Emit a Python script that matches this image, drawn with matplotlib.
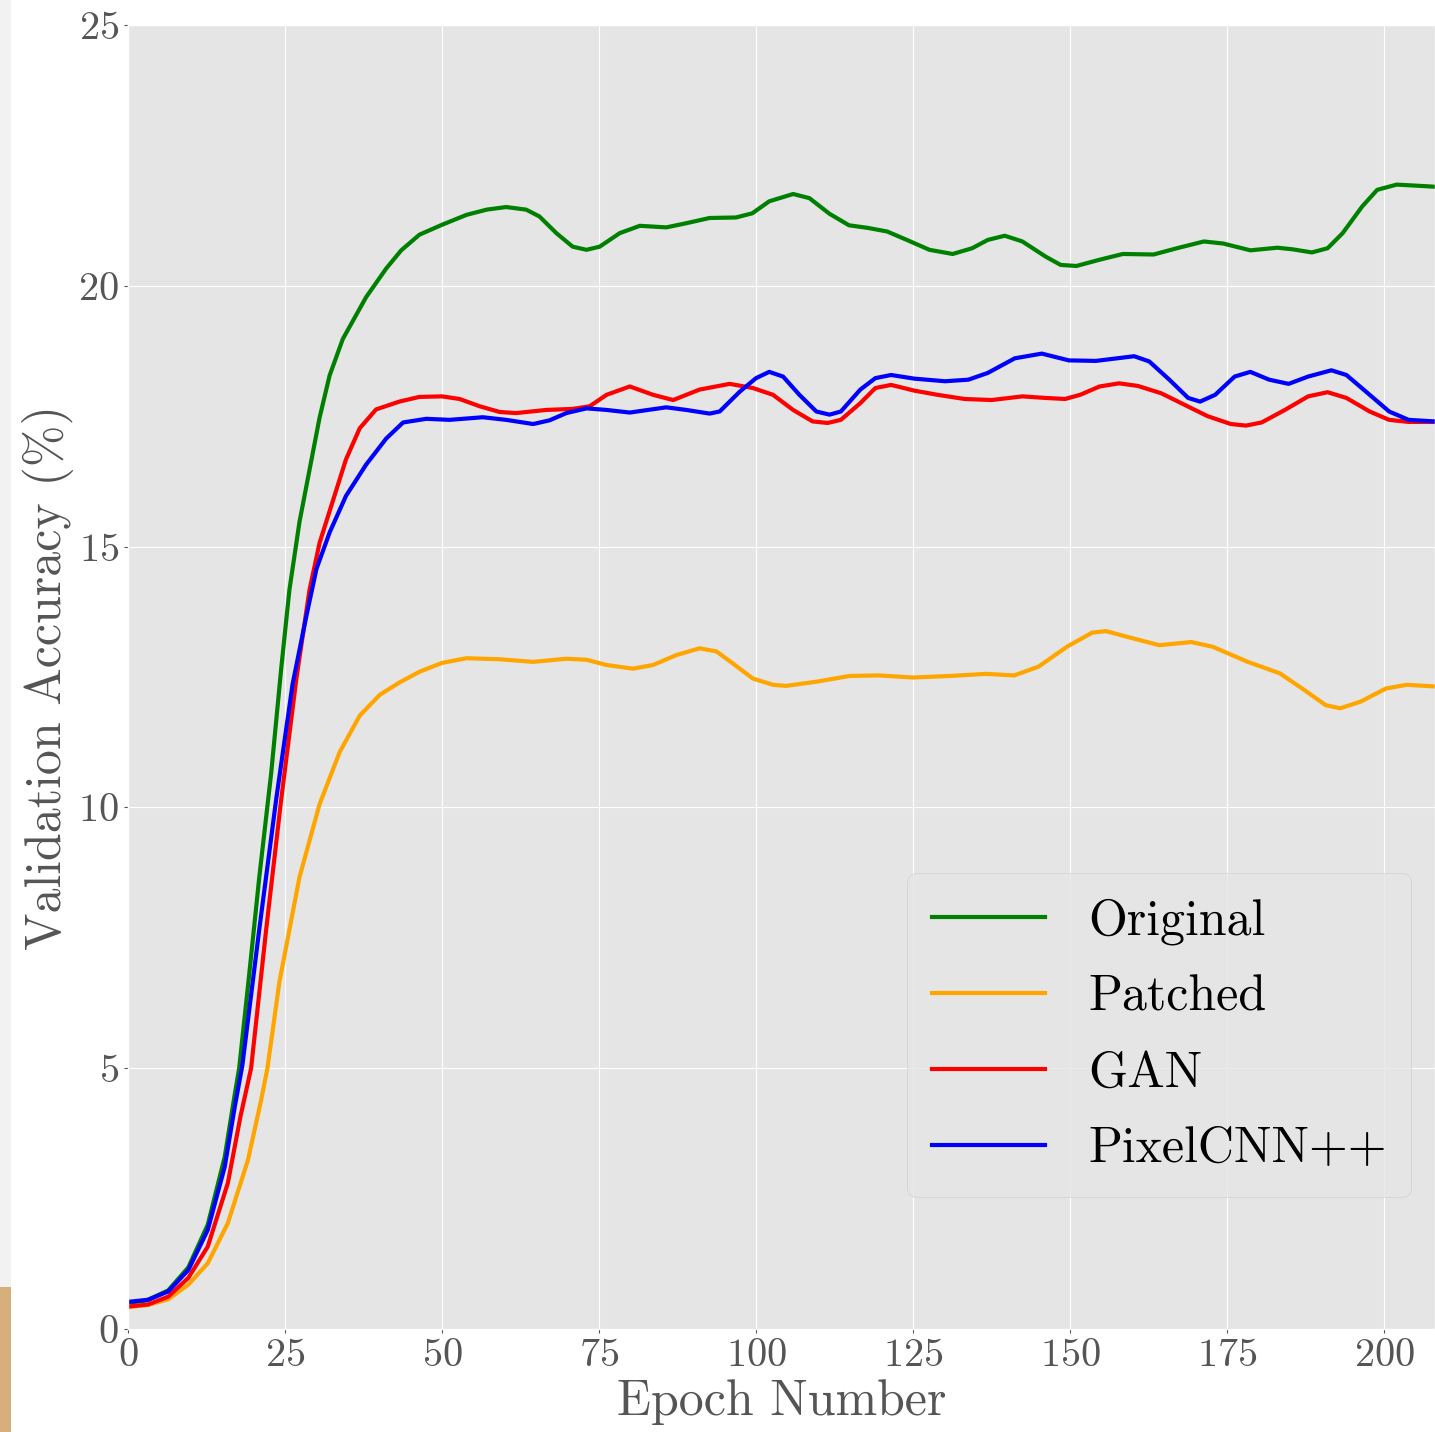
import matplotlib
matplotlib.use("Agg")
import matplotlib.pyplot as plt
from matplotlib.patches import Rectangle

# values (epoch, validation accuracy %)
original_epochs = [0, 3, 6.4, 9.6, 12.7, 15.4, 17.0, 17.7, 19.3, 20.9,
                   22.8, 24.4, 25.7, 27.3, 28.9, 30.5, 32.1, 34.2, 37.9, 41.1,
                   43.5, 46.4, 50, 53.9, 57.1, 60.2, 63.4, 65.5, 68.2, 70.8,
                   73, 75.1, 78.3, 81.5, 85.7, 88.9, 92.6, 96.8, 99.4, 102.1,
                   105.9, 108.5, 111.7, 114.8, 117.8, 120.9, 124, 127.6, 131.3, 134.4,
                   136.9, 139.6, 142.4, 146.1, 148.5, 151, 154.7, 158.4, 163.3, 167,
                   171.3, 174.4, 178.7, 183, 185.4, 188.5, 191, 193.4, 196.5, 198.9,
                   202, 205.1, 208]
original_acc = [0.5, 0.55, 0.74, 1.18, 2.0, 3.3, 4.5, 5.0, 6.8, 8.66,
                10.66, 12.67, 14.17, 15.47, 16.47, 17.47, 18.28, 18.98, 19.78, 20.33,
                20.68, 20.98, 21.17, 21.36, 21.46, 21.51, 21.46, 21.33, 21.01, 20.75,
                20.69, 20.75, 21.01, 21.15, 21.12, 21.2, 21.3, 21.31, 21.39, 21.62,
                21.76, 21.68, 21.38, 21.16, 21.11, 21.04, 20.88, 20.69, 20.61, 20.72,
                20.88, 20.96, 20.85, 20.56, 20.4, 20.38, 20.5, 20.61, 20.6, 20.72,
                20.85, 20.81, 20.68, 20.73, 20.7, 20.64, 20.72, 21.01, 21.52, 21.84,
                21.94, 21.92, 21.9]

patched_epochs = [0, 3.2, 6.4, 9.6, 12.7, 15.9, 19.1, 21.2, 22.2, 24.1,
                  27.3, 30.5, 33.7, 36.9, 40.1, 43.3, 46.4, 50, 53.9, 59.2,
                  64.5, 69.8, 73, 76.2, 80.4, 83.6, 87.3, 91, 93.7, 96.3,
                  99.5, 102.7, 104.8, 109.6, 114.9, 119.6, 125, 130.9, 136.6, 141.1,
                  145, 149.5, 153.5, 155.7, 159.1, 164.2, 169.3, 172.7, 178.3, 183.4,
                  187.3, 190.7, 193, 196.3, 200.3, 203.6, 208]
patched_acc = [0.42, 0.46, 0.57, 0.85, 1.26, 2.03, 3.24, 4.39, 5.0, 6.65,
               8.66, 10.06, 11.06, 11.76, 12.16, 12.4, 12.6, 12.77, 12.86, 12.84,
               12.79, 12.85, 12.83, 12.73, 12.66, 12.73, 12.92, 13.05, 12.99, 12.76,
               12.47, 12.35, 12.33, 12.41, 12.52, 12.53, 12.49, 12.52, 12.56, 12.53,
               12.7, 13.08, 13.35, 13.38, 13.27, 13.11, 13.17, 13.08, 12.79, 12.57,
               12.25, 11.96, 11.9, 12.03, 12.28, 12.35, 12.32]

gan_epochs = [0, 3.2, 6.4, 9.6, 12.7, 15.9, 17.9, 19.6, 22.0, 24.4,
              26.8, 28.9, 30.5, 32.6, 34.7, 36.9, 39.5, 43.2, 46.4, 50,
              52.8, 56, 59.2, 61.8, 66.6, 70.8, 73.5, 76.2, 79.9, 83.6,
              86.8, 91.0, 95.8, 99.5, 102.7, 105.9, 109.0, 111.4, 113.5, 116.6,
              119, 121.5, 125.2, 128.9, 133.2, 137.5, 142.4, 146.1, 149.2, 151.6,
              154.7, 157.8, 160.8, 164.5, 168.2, 171.9, 175.6, 178, 180.5, 184.2,
              187.9, 191, 194, 197.7, 200.8, 203.9, 208]
gan_acc = [0.43, 0.47, 0.62, 0.98, 1.58, 2.8, 4.07, 5.0, 7.66, 10.16,
           12.46, 14.17, 15.07, 15.87, 16.67, 17.27, 17.63, 17.78, 17.87, 17.88,
           17.83, 17.69, 17.58, 17.56, 17.62, 17.64, 17.69, 17.91, 18.07, 17.91,
           17.81, 18.01, 18.12, 18.04, 17.91, 17.62, 17.4, 17.37, 17.43, 17.75,
           18.04, 18.1, 17.99, 17.91, 17.83, 17.81, 17.88, 17.85, 17.83, 17.91,
           18.07, 18.13, 18.08, 17.94, 17.72, 17.5, 17.35, 17.32, 17.38, 17.62,
           17.88, 17.96, 17.85, 17.59, 17.43, 17.39, 17.39]

pixelcnn_epochs = [0, 3.2, 6.4, 9.6, 12.7, 15.4, 17.0, 18.2, 20.9, 23.6,
                   26.2, 28.4, 30.0, 32.1, 34.7, 37.9, 41.1, 43.8, 47.5, 51.2,
                   56.5, 60.2, 64.5, 67.1, 69.8, 73, 76.2, 79.9, 85.7, 88.9,
                   92.6, 94.2, 97.4, 100, 102.1, 104.3, 106.9, 109.6, 111.7, 113.5,
                   116.6, 119, 121.5, 125.2, 130.1, 133.8, 136.9, 141.2, 145.5, 149.8,
                   154.1, 160.2, 162.6, 165.8, 168.8, 170.7, 173.1, 176.2, 178.7, 181.7,
                   184.8, 187.9, 191.6, 194, 197.7, 200.8, 203.9, 208]
pixelcnn_acc = [0.52, 0.56, 0.72, 1.13, 1.90, 3.11, 4.26, 5.05, 7.66, 10.16,
                12.36, 13.67, 14.57, 15.27, 15.97, 16.57, 17.07, 17.38, 17.45, 17.43,
                17.48, 17.43, 17.35, 17.42, 17.56, 17.65, 17.62, 17.57, 17.67, 17.62,
                17.55, 17.59, 17.97, 18.23, 18.35, 18.26, 17.91, 17.59, 17.53, 17.59,
                18.01, 18.23, 18.29, 18.22, 18.17, 18.2, 18.33, 18.61, 18.7, 18.57,
                18.56, 18.65, 18.55, 18.2, 17.85, 17.78, 17.91, 18.26, 18.35, 18.2,
                18.12, 18.26, 18.38, 18.29, 17.91, 17.59, 17.43, 17.4]

x_ticks = [0, 25, 50, 75, 100, 125, 150, 175, 200]
y_ticks = [0, 5, 10, 15, 20, 25]

plt.style.use("ggplot")
plt.rcParams["font.family"] = ["cmr10", "DejaVu Serif"]
plt.rcParams["mathtext.fontset"] = "cm"
plt.rcParams["axes.formatter.use_mathtext"] = True

fig = plt.figure(figsize=(14.35, 14.32), dpi=100)
fig.patch.set_facecolor("white")

# screenshot strip on the left edge
fig.patches.append(Rectangle((0, 0.101), 11 / 1435, 0.899, transform=fig.transFigure,
                             facecolor="#f2f2f2", edgecolor="none", zorder=-1))
fig.patches.append(Rectangle((0, 0), 11 / 1435, 0.101, transform=fig.transFigure,
                             facecolor="#d7af7b", edgecolor="none", zorder=-1))

ax = fig.add_axes([128 / 1435, 103 / 1432, 1307 / 1435, 1304 / 1432])

lw = 3.0
ax.plot(original_epochs, original_acc, color="green", lw=lw, label="Original")
ax.plot(patched_epochs, patched_acc, color="orange", lw=lw, label="Patched")
ax.plot(gan_epochs, gan_acc, color="red", lw=lw, label="GAN")
ax.plot(pixelcnn_epochs, pixelcnn_acc, color="blue", lw=lw, label="PixelCNN++")

ax.set_xlim(0, 208.1)
ax.set_ylim(0, 25)
ax.set_xticks(x_ticks)
ax.set_yticks(y_ticks)
ax.tick_params(labelsize=29, colors="#555555", length=3)

ax.set_xlabel("Epoch Number", fontsize=36, color="#555555", labelpad=4)
ax.set_ylabel("Validation Accuracy (%)", fontsize=36, color="#555555", labelpad=3)

ax.legend(loc="lower right", bbox_to_anchor=(0.982, 0.101), borderaxespad=0,
          fontsize=36, handlelength=2.26, handletextpad=0.86, labelspacing=0.6,
          borderpad=0.5)

fig.savefig("out.png", dpi=100)
